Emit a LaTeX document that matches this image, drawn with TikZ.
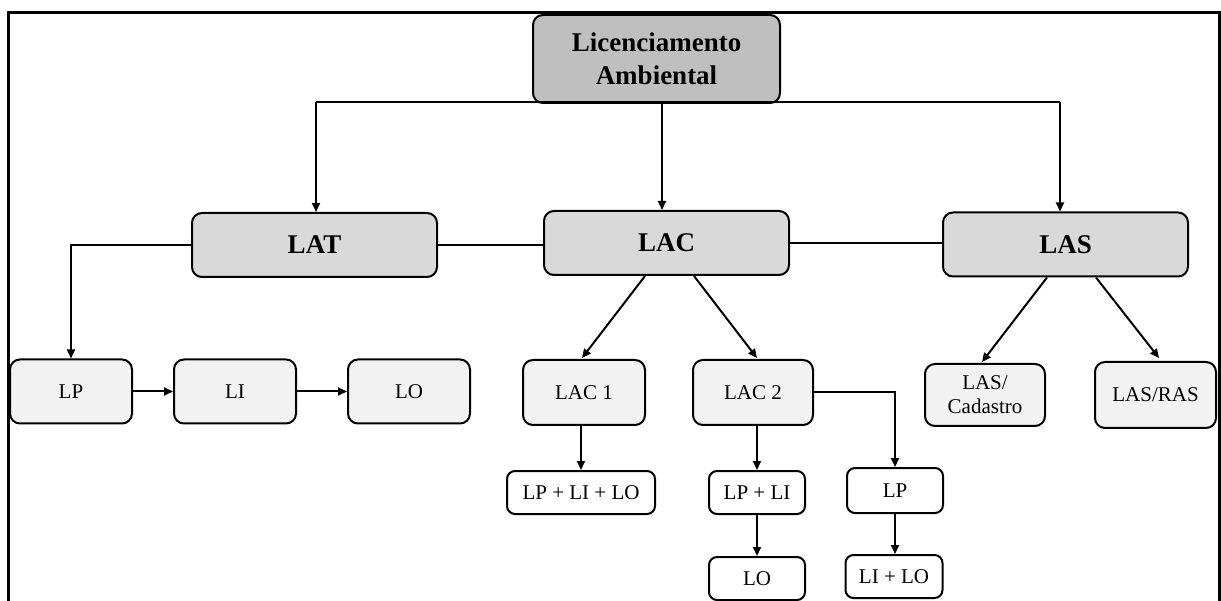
\documentclass[tikz,border=0pt]{standalone}
\usepackage{fontspec}
\setmainfont{Liberation Serif}
\usetikzlibrary{arrows.meta,calc}
\definecolor{topfill}{HTML}{BFBFBF}
\definecolor{midfill}{HTML}{D9D9D9}
\definecolor{lowfill}{HTML}{F2F2F2}
\tikzset{
  box/.style={draw=black, line width=2pt, rounded corners=10pt, align=center,
    inner sep=0pt, font=\fontsize{21}{24}\selectfont},
  headbox/.style={box, fill=midfill, minimum width=245pt, minimum height=64pt,
    font=\fontsize{27}{32}\selectfont\bfseries},
  stagebox/.style={box, fill=lowfill, minimum height=64pt},
  leafbox/.style={box, fill=white, rounded corners=8pt, minimum height=43pt},
  link/.style={draw=black, line width=2pt},
  arr/.style={link, -{Triangle[length=9pt,width=8pt]}}
}
\begin{document}
\begin{tikzpicture}[x=1pt, y=-1pt]
\useasboundingbox (0,0) rectangle (1221,601);
% outer frame, open at the bottom
\draw[line width=3pt] (8,601) -- (8,13) -- (1219,13) -- (1219,601);

% root
\node[box, fill=topfill, minimum width=247pt, minimum height=88pt,
      font=\fontsize{27}{33}\selectfont\bfseries] (root) at (656.5,59)
      {Licenciamento\\Ambiental};

% license types
\node[headbox] (lat) at (314.5,245) {LAT};
\node[headbox] (lac) at (666.5,243) {LAC};
\node[headbox] (las) at (1065.5,244.5) {LAS};

% stages
\node[stagebox, minimum width=122pt] (lp)   at (71,391.5)  {LP};
\node[stagebox, minimum width=122pt] (li)   at (235,391.5) {LI};
\node[stagebox, minimum width=122pt] (lo)   at (409,391.5) {LO};
\node[stagebox, minimum width=122pt, minimum height=65pt] (lac1) at (584,392.5) {LAC 1};
\node[stagebox, minimum width=120pt, minimum height=65pt] (lac2) at (753,392.5) {LAC 2};
\node[stagebox, minimum width=120pt, minimum height=62pt] (lascad) at (985,395) {LAS/\\Cadastro};
\node[stagebox, minimum width=121pt, minimum height=66pt] (lasras) at (1155.5,395) {LAS/RAS};

% combined licences
\node[leafbox, minimum width=148pt] (lplilo) at (581,492.5) {LP + LI + LO};
\node[leafbox, minimum width=96pt]  (lpli)   at (757,492.5) {LP + LI};
\node[leafbox, minimum width=96pt]  (lob)    at (757,578.5) {LO};
\node[leafbox, minimum width=96pt, minimum height=45pt] (lpr) at (895,490.5) {LP};
\node[leafbox, minimum width=97pt]  (lilo)   at (894,576.5) {LI + LO};

% branches from the root
\coordinate (hl) at (316,102);
\coordinate (hr) at (1060,102);
\coordinate (hc) at (662,102);
\draw[link] (hl) -- (hr);
\draw[arr] (hl) -- (hl |- lat.north);
\draw[arr] (hr) -- (hr |- las.north);
\draw[arr] (root.south -| hc) -- (hc |- lac.north);

% links between license types
\draw[link] (lat.east) -- (lat.east -| lac.west);
\draw[link] (lac.east) -- (lac.east -| las.west);

% LAT sequence
\draw[arr] (lat.west) -| (lp.north);
\draw[arr] (lp.east) -- (li.west);
\draw[arr] (li.east) -- (lo.west);

% LAC branches
\draw[arr] ($(lac.south)+(-21.5,0)$) -- ($(lac1.north)+(-2,-1)$);
\draw[arr] ($(lac.south)+(27.5,0)$) -- ($(lac2.north)+(4,-1)$);
\draw[arr] (lac1.south -| lplilo.north) -- (lplilo.north);
\draw[arr] (lac2.south -| lpli.north) -- (lpli.north);
\draw[arr] (lpli.south) -- (lob.north);
\draw[arr] (lac2.east) -| (lpr.north);
\draw[arr] (lpr.south) -- (lpr.south |- lilo.north);

% LAS branches
\draw[arr] ($(las.south)+(-18.5,0)$) -- ($(lascad.north)+(-3,-1)$);
\draw[arr] ($(las.south)+(30.5,0)$) -- ($(lasras.north)+(3.5,-3)$);
\end{tikzpicture}
\end{document}
